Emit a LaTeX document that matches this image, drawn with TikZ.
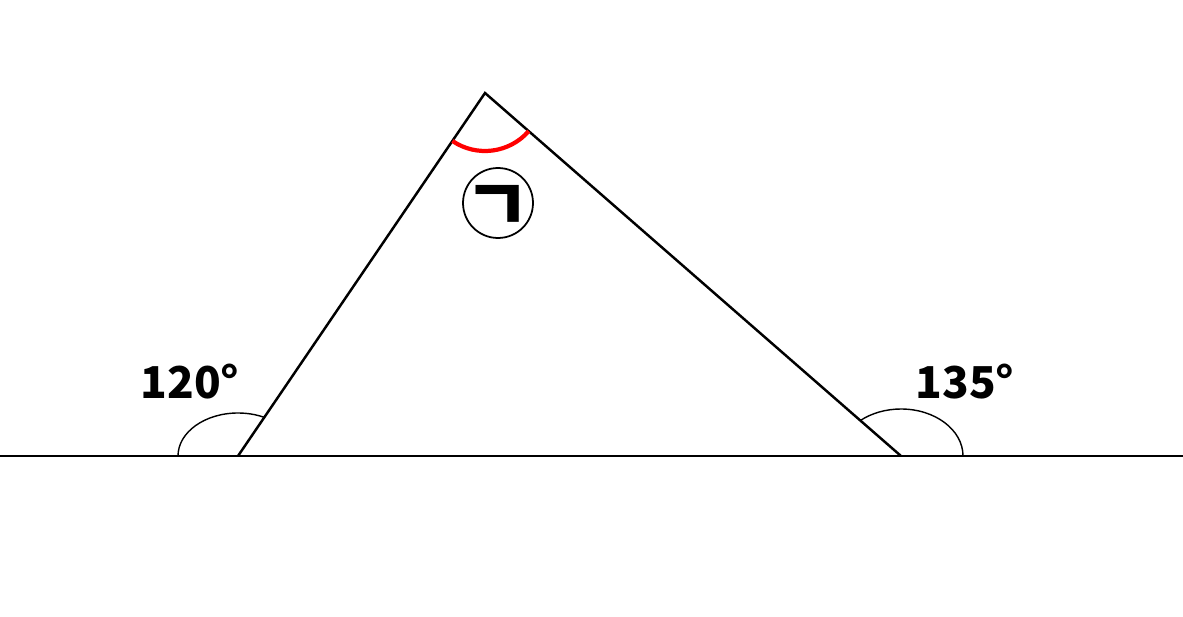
\documentclass[tikz,border=0pt]{standalone}
\usepackage{fontspec}
\newfontfamily\kor{Noto Sans CJK KR}

\begin{document}
\begin{tikzpicture}[
  x=0.02cm, y=0.02cm,
  edge/.style = {line width=1.4pt},
  angle/.style = {line width=0.8pt},
  marked/.style = {red,line width=2.4pt},
  label/.style = {font=\kor\bfseries\fontsize{25}{25}\selectfont,inner sep=0pt}
  ]
  \useasboundingbox (0,0) rectangle (1183,616);
  % base line and triangle
  \coordinate (L) at (0,160);
  \coordinate (R) at (1183,160);
  \coordinate (A) at (238,160);
  \coordinate (B) at (485,523);
  \coordinate (C) at (901,160);
  \draw[edge] (L) -- (R);
  \draw[edge] (A) -- (B) -- (C);
  % exterior angles
  \draw[angle] (A) ++(-60,0) arc[start angle=180, end angle=64, x radius=60, y radius=43];
  \draw[angle] (C) ++(62,0) arc[start angle=0, end angle=131, x radius=62, y radius=47];
  \node[label] (a1) at (190,234) {120°};
  \node[label] (a2) at (965,234) {135°};
  % angle at the top
  \draw[marked] (B) ++(235.8:58) arc[start angle=235.8, end angle=318.9, radius=58];
  \node[circle,draw,line width=1pt,minimum size=1.4cm,inner sep=0pt] (g) at (498,413) {};
  \node[font=\kor\bfseries\fontsize{41}{41}\selectfont,inner sep=0pt] (gl) at ([yshift=-0.1cm]g.center) {ㄱ};
\end{tikzpicture}
\end{document}
